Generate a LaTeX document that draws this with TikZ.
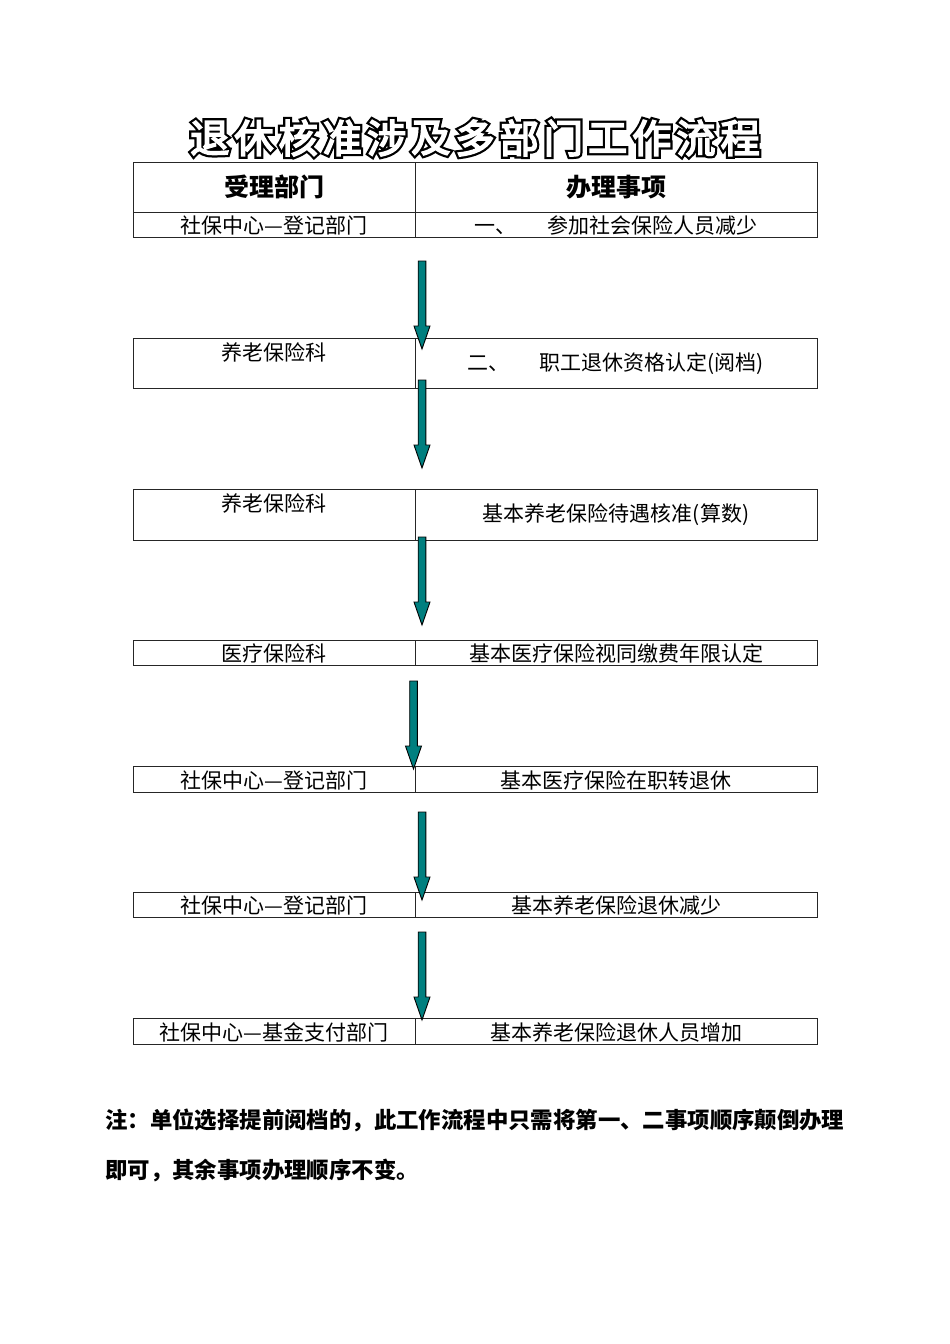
\documentclass[tikz,border=0pt]{standalone}
\usepackage{fontspec}
\setmainfont{Noto Sans CJK SC}
\newfontfamily\titleout{Noto Sans CJK SC}[FakeBold=16]
\newfontfamily\titlein{Noto Sans CJK SC}[FakeBold=4.5]
\definecolor{arrowteal}{HTML}{007F7F}
\tikzset{
  cell/.style={draw=black!85, line width=0.9pt, inner sep=0pt, anchor=center},
  txt/.style={inner sep=0pt, font=\fontsize{21}{21}\selectfont, text=black},
  hdr/.style={inner sep=0pt, font=\fontsize{25}{25}\selectfont\bfseries},
  note/.style={inner sep=0pt, anchor=west, font=\fontsize{22.4}{22.4}\selectfont\bfseries},
  ttlout/.style={inner sep=0pt, font=\fontsize{39}{39}\selectfont\titleout, text=black},
  ttlin/.style={inner sep=0pt, font=\fontsize{39}{39}\selectfont\titlein, text=white},
  downarrow/.pic={
    \filldraw[fill=arrowteal, draw=black, line width=0.9pt, line join=miter]
      (-3.8,0) -- (3.8,0) -- (3.8,65) -- (8,65) -- (0,88) -- (-8,65) -- (-3.8,65) -- cycle;
  }
}
\begin{document}
\begin{tikzpicture}[x=1pt, y=-1pt]
\useasboundingbox (0,0) rectangle (950,1344);
\fill[white] (0,0) rectangle (950,1344);

% title
\foreach \c [count=\i] in {退,休,核,准,涉,及,多,部,门,工,作,流,程}{
  \node[ttlout] (tA\i) at ({475+(\i-7)*44.2},138) {\c};
}
\foreach \c [count=\i] in {退,休,核,准,涉,及,多,部,门,工,作,流,程}{
  \node[ttlin] (tB\i) at (tA\i.center) {\c};
}

% header table
\node[cell, minimum width=282pt, minimum height=50pt] (h1) at (274,187) {};
\node[cell, minimum width=402pt, minimum height=50pt] (h2) at (616,187) {};
\node[hdr] (h1t) at (h1.center) {受理部门};
\node[hdr] (h2t) at (h2.center) {办理事项};
\node[cell, minimum width=282pt, minimum height=25pt] (b1l) at (274,224.5) {};
\node[cell, minimum width=402pt, minimum height=25pt] (b1r) at (616,224.5) {};
\node[txt] (b1lt) at (274,225) {社保中心—登记部门};
\node[txt] (b1rt) at (616,225) {一、\hspace{31pt}参加社会保险人员减少};

% box 2
\node[cell, minimum width=282pt, minimum height=50pt] (b2l) at (274,363) {};
\node[cell, minimum width=402pt, minimum height=50pt] (b2r) at (616,363) {};
\node[txt] (b2lt) at (274,352) {养老保险科};
\node[txt] (b2rt) at (616,364) {二、\hspace{30pt}职工退休资格认定(阅档)};

% box 3
\node[cell, minimum width=282pt, minimum height=51pt] (b3l) at (274,514.5) {};
\node[cell, minimum width=402pt, minimum height=51pt] (b3r) at (616,514.5) {};
\node[txt] (b3lt) at (274,503) {养老保险科};
\node[txt] (b3rt) at (616,515) {基本养老保险待遇核准(算数)};

% box 4
\node[cell, minimum width=282pt, minimum height=25pt] (b4l) at (274,652.5) {};
\node[cell, minimum width=402pt, minimum height=25pt] (b4r) at (616,652.5) {};
\node[txt] (b4lt) at (274,653.5) {医疗保险科};
\node[txt] (b4rt) at (616,653.5) {基本医疗保险视同缴费年限认定};

% box 5
\node[cell, minimum width=282pt, minimum height=26pt] (b5l) at (274,779) {};
\node[cell, minimum width=402pt, minimum height=26pt] (b5r) at (616,779) {};
\node[txt] (b5lt) at (274,780) {社保中心—登记部门};
\node[txt] (b5rt) at (616,780) {基本医疗保险在职转退休};

% box 6
\node[cell, minimum width=282pt, minimum height=25pt] (b6l) at (274,904.5) {};
\node[cell, minimum width=402pt, minimum height=25pt] (b6r) at (616,904.5) {};
\node[txt] (b6lt) at (274,905.5) {社保中心—登记部门};
\node[txt] (b6rt) at (616,905.5) {基本养老保险退休减少};

% box 7
\node[cell, minimum width=282pt, minimum height=26pt] (b7l) at (274,1031) {};
\node[cell, minimum width=402pt, minimum height=26pt] (b7r) at (616,1031) {};
\node[txt] (b7lt) at (274,1032) {社保中心—基金支付部门};
\node[txt] (b7rt) at (616,1032) {基本养老保险退休人员增加};

% arrows
\coordinate (a1) at (422,261);
\coordinate (a2) at (422,380);
\coordinate (a3) at (422,537);
\coordinate (a4) at (413.5,681);
\coordinate (a5) at (422,812);
\coordinate (a6) at (422,932);
\pic at (a1) {downarrow};
\pic at (a2) {downarrow};
\pic at (a3) {downarrow};
\pic at (a4) {downarrow};
\pic at (a5) {downarrow};
\pic at (a6) {downarrow};

% note
\node[note] (n1) at (105,1120) {注：单位选择提前阅档的，此工作流程中只需将第一、二事项顺序颠倒办理};
\node[note] (n2) at (105,1170) {即可，其余事项办理顺序不变。};
\end{tikzpicture}
\end{document}
